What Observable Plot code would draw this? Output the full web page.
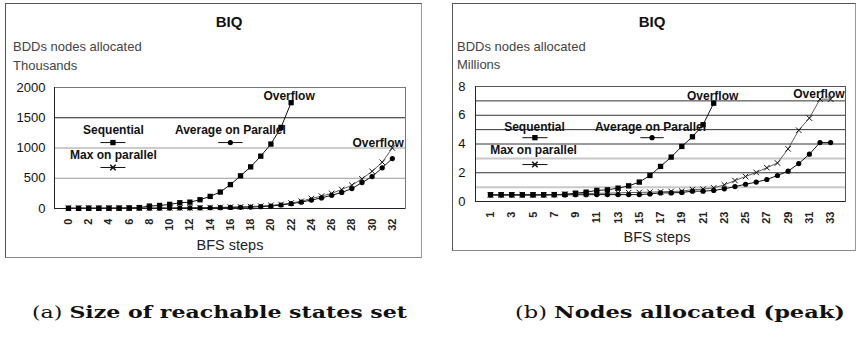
<!DOCTYPE html>
<html>
<head>
<meta charset="utf-8">
<script src="https://cdn.jsdelivr.net/npm/d3@7"></script>
<script src="https://cdn.jsdelivr.net/npm/@observablehq/plot@0.6"></script>
<style>
  html, body { margin: 0; padding: 0; background: #fff; }
  body { width: 859px; height: 339px; position: relative; overflow: hidden; font-family: "Liberation Sans", Arial, sans-serif; }
  .frame { position: absolute; border: 1px solid #555; border-right-color: #999; border-bottom-color: #888; box-sizing: border-box; }
  .plot { position: absolute; }
  #overlay { position: absolute; left: 0; top: 0; pointer-events: none; }
</style>
</head>
<body>
<div class="frame" style="left:5px;top:3px;width:417px;height:255px"></div>
<div class="frame" style="left:452px;top:3px;width:404px;height:248px"></div>
<div id="left" class="plot" style="left:6px;top:70px"></div>
<div id="right" class="plot" style="left:453px;top:70px"></div>
<svg id="overlay" width="859" height="339" font-family="Liberation Sans, Arial, sans-serif">
  <text x="229" y="27" text-anchor="middle" font-weight="bold" font-size="15" fill="#111">BIQ</text>
  <text x="13" y="51" font-size="13" fill="#444">BDDs nodes allocated</text>
  <text x="13" y="70" font-size="13" fill="#444">Thousands</text>
  <text x="230" y="250" text-anchor="middle" font-size="14.5" fill="#222">BFS steps</text>
  <text x="652" y="27" text-anchor="middle" font-weight="bold" font-size="15" fill="#111">BIQ</text>
  <text x="457" y="51" font-size="13" fill="#444">BDDs nodes allocated</text>
  <text x="457" y="69" font-size="13" fill="#444">Millions</text>
  <text x="657" y="242" text-anchor="middle" font-size="14.5" fill="#222">BFS steps</text>
  <text x="32" y="318" font-family="DejaVu Serif, Liberation Serif, serif" font-size="17" fill="#111" textLength="375" lengthAdjust="spacingAndGlyphs"><tspan>(a) </tspan><tspan font-weight="bold">Size of reachable states set</tspan></text>
  <text x="515" y="318" font-family="DejaVu Serif, Liberation Serif, serif" font-size="17" fill="#111" textLength="330" lengthAdjust="spacingAndGlyphs"><tspan>(b) </tspan><tspan font-weight="bold">Nodes allocated (peak)</tspan></text>
</svg>
<script>
// ---------- Data: panel (a) BDD nodes allocated, thousands ----------
const stepsA = [0,1,2,3,4,5,6,7,8,9,10,11,12,13,14,15,16,17,18,19,20,21,22,23,24,25,26,27,28,29,30,31,32];
const seqA = [5,5,6,6,7,8,10,15,40,50,68,95,105,145,200,272,395,540,688,865,1065,1340,1750];
const avgA = [3,3,3,3,3,3,4,4,5,6,7,8,9,10,12,14,17,20,24,30,40,58,80,105,140,175,218,265,330,428,528,672,826];
const maxA = [4,4,4,4,4,5,5,6,7,8,9,10,12,14,16,19,23,27,32,40,52,68,90,120,165,205,250,315,385,490,615,765,1000];
const yTicksA = [0,500,1000,1500,2000];
const xTicksA = [0,2,4,6,8,10,12,14,16,18,20,22,24,26,28,30,32];

// ---------- Data: panel (b) BDD nodes allocated (peak), millions ----------
const stepsB = [1,2,3,4,5,6,7,8,9,10,11,12,13,14,15,16,17,18,19,20,21,22,23,24,25,26,27,28,29,30,31,32,33];
const seqB = [0.47,0.47,0.47,0.47,0.47,0.47,0.48,0.5,0.58,0.65,0.77,0.81,0.93,1.09,1.35,1.81,2.44,3.09,3.83,4.5,5.34,6.84];
const avgB = [0.45,0.45,0.45,0.45,0.45,0.45,0.46,0.46,0.47,0.47,0.48,0.48,0.48,0.48,0.48,0.53,0.6,0.6,0.63,0.72,0.72,0.77,0.88,1.04,1.2,1.35,1.53,1.81,2.11,2.64,3.29,4.1,4.1];
const maxB = [0.46,0.46,0.46,0.46,0.46,0.47,0.48,0.5,0.52,0.55,0.57,0.58,0.6,0.62,0.63,0.65,0.67,0.7,0.72,0.83,0.86,0.95,1.16,1.46,1.74,2.02,2.35,2.68,3.66,4.96,5.8,7.12,7.12];
const yTicksB = [0,2,4,6,8];
const xTicksB = [1,3,5,7,9,11,13,15,17,19,21,23,25,27,29,31,33];

const seriesNames = ["Sequential", "Average on Parallel", "Max on parallel"];

function rows(steps, values) {
  return values.map((v, i) => ({step: steps[i], value: v}));
}

function seriesMarks(seq, avg, mx) {
  return [
    Plot.line(seq, {x: "step", y: "value", stroke: "#111", strokeWidth: 1}),
    Plot.line(avg, {x: "step", y: "value", stroke: "#111", strokeWidth: 1}),
    Plot.line(mx, {x: "step", y: "value", stroke: "#333", strokeWidth: 0.8}),
    Plot.dot(mx, {x: "step", y: "value", symbol: "times", r: 2.6, stroke: "#111", strokeWidth: 1}),
    Plot.dot(seq, {x: "step", y: "value", symbol: "square", r: 3, fill: "#000"}),
    Plot.dot(avg, {x: "step", y: "value", symbol: "circle", r: 2.6, fill: "#000"})
  ];
}

function legendMarks(items) {
  const marks = [];
  for (const it of items) {
    marks.push(Plot.text([it], {x: "tx", y: "ty", text: "name", fontWeight: "bold", fontSize: 12, fill: "#111"}));
    marks.push(Plot.link([it], {x1: "x1", x2: "x2", y1: "ly", y2: "ly", stroke: "#111", strokeWidth: 1}));
    if (it.symbol === "times") {
      marks.push(Plot.dot([it], {x: d => (d.x1 + d.x2) / 2, y: "ly", symbol: "times", r: 2.6, stroke: "#111"}));
    } else {
      marks.push(Plot.dot([it], {x: d => (d.x1 + d.x2) / 2, y: "ly", symbol: it.symbol, r: it.symbol === "square" ? 3 : 2.6, fill: "#000"}));
    }
  }
  return marks;
}

const plain = d => String(d);

// ---------- Panel (a) ----------
const plotA = Plot.plot({
  width: 414, height: 186,
  marginLeft: 48, marginRight: 15, marginTop: 17, marginBottom: 48,
  style: {fontFamily: "Liberation Sans, Arial, sans-serif", background: "transparent", overflow: "visible"},
  x: {domain: [-1.38, 33.3], label: null},
  y: {domain: [0, 2000], label: null},
  marks: [
    Plot.ruleY([500], {stroke: "#999", strokeWidth: 1}),
    Plot.ruleY([1000], {stroke: "#bbb", strokeWidth: 1.5}),
    Plot.ruleY([1500], {stroke: "#222", strokeWidth: 1}),
    Plot.frame({stroke: "#777"}),
    Plot.ruleY([0], {stroke: "#222"}),
    Plot.ruleX([-1.38], {stroke: "#222"}),
    Plot.axisX({ticks: xTicksA, tickRotate: -90, tickSize: 0, tickPadding: 10, fontSize: 11, fontWeight: "bold", fill: "#222", label: null, tickFormat: plain}),
    Plot.axisY({ticks: yTicksA, tickSize: 0, tickPadding: 9, fontSize: 13, fill: "#111", label: null, tickFormat: plain}),
    ...seriesMarks(rows(stepsA, seqA), rows(stepsA, avgA), rows(stepsA, maxA)),
    Plot.text([{x: 21.8, y: 1850, t: "Overflow"}, {x: 30.6, y: 1075, t: "Overflow"}], {x: "x", y: "y", text: "t", fontWeight: "bold", fontSize: 12, fill: "#111"}),
    ...legendMarks([
      {name: seriesNames[0], tx: 4.44, ty: 1290, x1: 3.16, x2: 5.63, ly: 1090, symbol: "square"},
      {name: seriesNames[1], tx: 16.0, ty: 1290, x1: 14.8, x2: 17.2, ly: 1090, symbol: "circle"},
      {name: seriesNames[2], tx: 4.44, ty: 876, x1: 3.16, x2: 5.63, ly: 678, symbol: "times"}
    ])
  ]
});
document.getElementById("left").appendChild(plotA);

// ---------- Panel (b) ----------
const plotB = Plot.plot({
  width: 401, height: 179,
  marginLeft: 22, marginRight: 9, marginTop: 16, marginBottom: 48,
  style: {fontFamily: "Liberation Sans, Arial, sans-serif", background: "transparent", overflow: "visible"},
  x: {domain: [-0.41, 34.4], label: null},
  y: {domain: [0, 8], label: null},
  marks: [
    Plot.ruleY([1, 3], {stroke: "#c8c8c8", strokeWidth: 2}),
    Plot.ruleY([2, 4, 5, 6, 7], {stroke: "#333", strokeWidth: 1}),
    Plot.frame({stroke: "#555"}),
    Plot.ruleY([0], {stroke: "#222"}),
    Plot.ruleX([-0.41], {stroke: "#222"}),
    Plot.axisX({ticks: xTicksB, tickRotate: -90, tickSize: 0, tickPadding: 10, fontSize: 11, fontWeight: "bold", fill: "#222", label: null, tickFormat: plain}),
    Plot.axisY({ticks: yTicksB, tickSize: 0, tickPadding: 10, fontSize: 13, fill: "#111", label: null, tickFormat: plain}),
    ...seriesMarks(rows(stepsB, seqB), rows(stepsB, avgB), rows(stepsB, maxB)),
    Plot.text([{x: 21.9, y: 7.3, t: "Overflow"}, {x: 31.9, y: 7.5, t: "Overflow"}], {x: "x", y: "y", text: "t", fontWeight: "bold", fontSize: 12, fill: "#111"}),
    ...legendMarks([
      {name: seriesNames[0], tx: 5.14, ty: 5.14, x1: 4.0, x2: 6.36, ly: 4.44, symbol: "square"},
      {name: seriesNames[1], tx: 16.06, ty: 5.14, x1: 15.1, x2: 17.3, ly: 4.44, symbol: "circle"},
      {name: seriesNames[2], tx: 5.05, ty: 3.54, x1: 4.0, x2: 6.36, ly: 2.57, symbol: "times"}
    ])
  ]
});
document.getElementById("right").appendChild(plotB);
</script>
</body>
</html>
